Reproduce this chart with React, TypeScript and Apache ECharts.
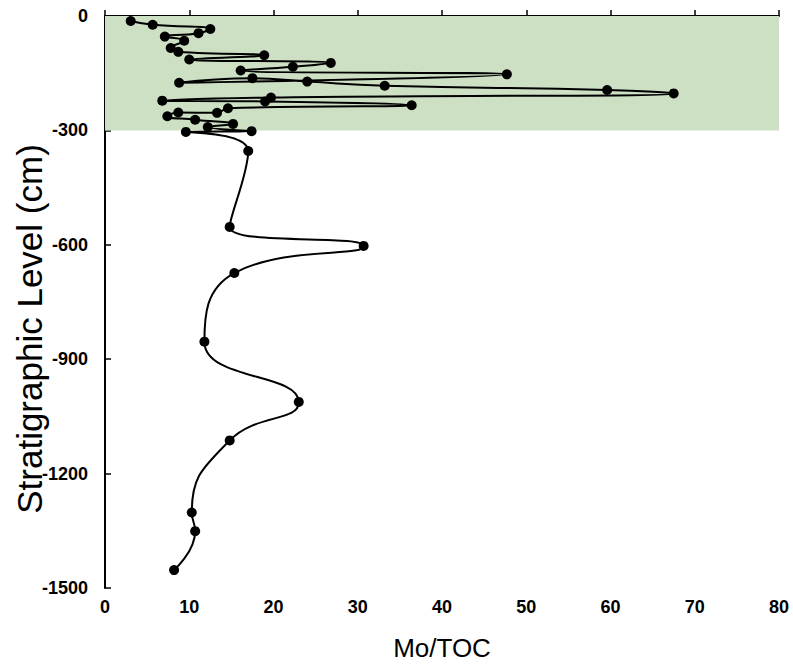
import React, { useEffect, useRef } from "react";
import * as echarts from "echarts";

// Mo/TOC values and stratigraphic levels (cm), in sample order
const moToc = [
  3.05, 5.66, 12.5, 11.1, 7.1, 9.4, 7.8, 8.7, 18.9, 10.0, 26.8, 22.3, 16.1, 47.7,
  8.8, 17.5, 24.0, 33.2, 59.6, 67.5, 19.7, 6.8, 19.0, 36.4, 14.6, 13.3, 8.7, 7.4,
  10.7, 15.2, 12.2, 17.4, 9.6, 17.0, 14.8, 30.7, 15.35, 11.8, 23.0, 14.8, 10.3,
  10.7, 8.2,
];
const level = [
  -13, -23, -34, -45, -54, -65, -84, -94, -103, -114, -123, -133, -143, -153,
  -175, -163, -172, -183, -194, -203, -214, -222, -224, -234, -242, -254, -253,
  -263, -272, -283, -291, -302, -304, -354, -553, -603, -674, -854, -1012, -1113,
  -1302, -1351, -1453,
];
const bandTop = 0;
const bandBottom = -300;
const xTicks = { min: 0, max: 80, interval: 10 };
const yTicks = { min: -1500, max: 0, interval: 300 };
const xTitle = "Mo/TOC";
const yTitle = "Stratigraphic Level (cm)";

export default function App() {
  const ref = useRef<HTMLDivElement>(null);
  useEffect(() => {
    document.body.style.margin = "0";
    document.body.style.overflow = "hidden";
    document.documentElement.style.overflow = "hidden";
    if (!ref.current) return;
    const chart = echarts.init(ref.current, undefined, { renderer: "svg" });
    const data = moToc.map((v, i) => [v, level[i]]);
    const axisLabel = {
      color: "#000",
      fontFamily: "'Liberation Sans', Arial, sans-serif",
      fontWeight: "bold" as const,
      fontSize: 18,
      formatter: (v: number) => String(v),
    };
    chart.setOption({
      animation: false,
      backgroundColor: "#fff",
      grid: { left: 105, right: 14, top: 16, bottom: 72, containLabel: false },
      graphic: [
        {
          type: "text",
          x: 29,
          y: 329,
          rotation: Math.PI / 2,
          style: {
            text: yTitle,
            fill: "#000",
            font: "35px 'Liberation Sans', Arial, sans-serif",
            align: "center",
            verticalAlign: "middle",
          },
        },
      ],
      xAxis: {
        type: "value",
        min: xTicks.min,
        max: xTicks.max,
        interval: xTicks.interval,
        name: xTitle,
        nameLocation: "middle",
        nameGap: 47,
        nameTextStyle: {
          color: "#000",
          fontFamily: "'Liberation Sans', Arial, sans-serif",
          fontSize: 26,
        },
        axisLine: { show: true, lineStyle: { color: "#000", width: 2 } },
        axisTick: { show: true, inside: true, length: 6, lineStyle: { color: "#000", width: 1.5 } },
        axisLabel: { ...axisLabel, margin: 10 },
        splitLine: { show: false },
      },
      yAxis: {
        type: "value",
        min: yTicks.min,
        max: yTicks.max,
        interval: yTicks.interval,
        axisLine: { show: true, onZero: false, lineStyle: { color: "#000", width: 2 } },
        axisTick: { show: true, inside: true, length: 6, lineStyle: { color: "#000", width: 1.5 } },
        axisLabel: { ...axisLabel, margin: 17 },
        splitLine: { show: false },
      },
      series: [
        {
          type: "line",
          data,
          smooth: 0.5,
          symbol: "circle",
          symbolSize: 10,
          itemStyle: { color: "#000" },
          lineStyle: { color: "#000", width: 2 },
          markArea: {
            silent: true,
            itemStyle: { color: "rgb(205,224,196)" },
            data: [[{ xAxis: xTicks.min, yAxis: bandTop }, { xAxis: xTicks.max, yAxis: bandBottom }]],
          },
        },
      ],
    });
    return () => chart.dispose();
  }, []);
  return <div ref={ref} style={{ width: 793, height: 666, overflow: "hidden" }} />;
}
